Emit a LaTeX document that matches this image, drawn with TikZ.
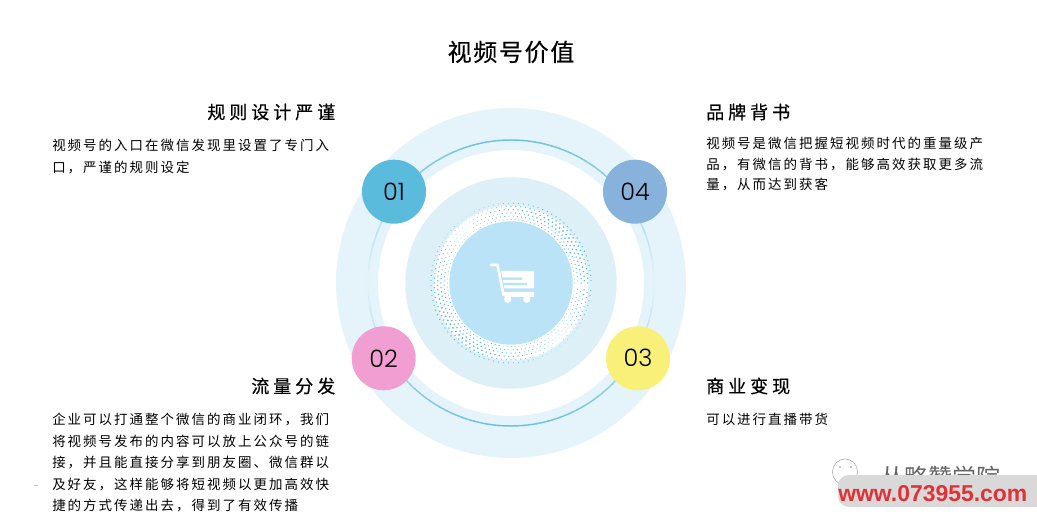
\documentclass[tikz,border=0pt]{standalone}
\usepackage{fontspec}
\usepackage{xcolor}
\setmainfont{Noto Sans CJK SC}
\newfontfamily\titlefont[LetterSpace=7,FakeBold=0.4]{Noto Sans CJK SC}
\newfontfamily\headfont[LetterSpace=22,FakeBold=0.4]{Noto Sans CJK SC}
\newfontfamily\bodyfont[LetterSpace=15]{Noto Sans CJK SC}
\newfontfamily\numfont{Poppins Light}
\newfontfamily\markfont{Liberation Sans}
\definecolor{ringOuter}{HTML}{E5F4FB}
\definecolor{ringMid}{HTML}{DDF0F8}
\definecolor{ringInner}{HTML}{BBE3F7}
\definecolor{dotBlue}{HTML}{5ABBDC}
\definecolor{numOne}{HTML}{5ABBDC}
\definecolor{numTwo}{HTML}{F19FD2}
\definecolor{numThree}{HTML}{F8F078}
\definecolor{numFour}{HTML}{86B2DB}
\definecolor{barGray}{HTML}{D9D9D9}
\definecolor{markRed}{HTML}{E03236}
\tikzset{
  numcircle/.style={circle, minimum size=48pt, inner sep=0pt, font=\numfont\fontsize{18}{20}\selectfont},
  headleft/.style={anchor=east, inner sep=0pt, font=\headfont\fontsize{13.5}{16}\selectfont},
  headright/.style={anchor=west, inner sep=0pt, font=\headfont\fontsize{13.5}{16}\selectfont},
  bodytext/.style={anchor=north west, align=left, inner sep=0pt, font=\bodyfont\fontsize{10.1}{16.1}\selectfont},
}
\begin{document}
\begin{tikzpicture}[x=0.75pt, y=-0.75pt]
                \useasboundingbox (0, 0) rectangle (1037, 523);
                \coordinate (c) at (511, 283);

                % rings
                \fill[ringOuter, even odd rule] (c) circle (131.25pt) (c) circle (99.75pt);
                \foreach \a in {0, 5, ..., 355} {
                    \pgfmathsetmacro{\tone}{15 + 75*abs(sin(\a + 2.5))}
                    \draw[dotBlue!\tone!white, line width=1.1pt] ([shift={(\a:107.25pt)}]c) arc[start angle=\a, end angle=\a + 5.4, radius=107.25pt];
                }
                \fill[ringMid] (c) circle (79.3pt);
                \fill[white] (c) circle (58pt);

                % halftone dots
                \foreach \n in {0, 1, ..., 5} {
                    \foreach \a in {0, 3.6, ..., 356.4} {
                        \pgfmathsetmacro{\dotrad}{0.75*(63.5 + 3.3*\n)}
                        \pgfmathsetmacro{\dotang}{\a + 1.8*mod(\n, 2)}
                        \pgfmathsetmacro{\dotsize}{0.75*(0.3 + 0.7*abs(sin(\a + 45 + 3*\n))*(1 - abs(\n - 3)/5))}
                        \fill[dotBlue] ([shift={(\dotang:\dotrad pt)}]c) circle (\dotsize pt);
                    }
                }
                \node[circle, fill=ringInner, minimum size=92.5pt, inner sep=0pt] (hub) at (c) {};

                % cart
                \fill[white, rounded corners=0.6pt] (501, 271) -- (534, 271) -- (534, 288.5) -- (504.5, 288.5) -- cycle;
                \fill[white] (503.5, 292) -- (534, 292) -- (534, 297) -- (504.5, 297) -- cycle;
                \draw[white, line width=1.9pt, line cap=round, line join=round] (491, 265) -- (497.5, 265) -- (503.5, 295);
                \fill[white] (507.7, 299.3) circle (2.7pt) (526.7, 299.3) circle (2.7pt);
                \fill[ringInner] (501.5, 277.5) rectangle (522, 280) (503, 283) rectangle (527, 285.3);

                % numbered circles
                \node[numcircle, fill=numOne] (n1) at (394, 191.7) {01};
                \node[numcircle, fill=numTwo] (n2) at (383.7, 358.3) {02};
                \node[numcircle, fill=numThree] (n3) at (638, 358.3) {03};
                \node[numcircle, fill=numFour] (n4) at (635, 191.7) {04};

                \node[font=\titlefont\fontsize{18}{20}\selectfont] (title) at (511, 52) {视频号价值};

                \node[headleft] (h1) at (335.5, 112) {规则设计严谨};
                \node[bodytext] (b1) at (52, 139) {视频号的入口在微信发现里设置了专门入\\口，严谨的规则设定};
                \node[headleft] (h2) at (335.5, 386) {流量分发};
                \node[bodytext] (b2) at (52, 413) {企业可以打通整个微信的商业闭环，我们\\将视频号发布的内容可以放上公众号的链\\接，并且能直接分享到朋友圈、微信群以\\及好友，这样能够将短视频以更加高效快\\捷的方式传递出去，得到了有效传播};
                \node[headright] (h3) at (706, 386) {商业变现};
                \node[bodytext] (b3) at (706, 413) {可以进行直播带货};
                \node[headright] (h4) at (706, 112) {品牌背书};
                \node[bodytext, font=\bodyfont\fontsize{10.1}{15.5}\selectfont] (b4) at (706, 137) {视频号是微信把握短视频时代的重量级产\\品，有微信的背书，能够高效获取更多流\\量，从而达到获客};

                % watermark
                \draw[gray!60, line width=0.5pt] (845, 472) ellipse [x radius=9.4pt, y radius=9.8pt];
                \fill[gray!60] (840, 467) circle (0.9pt) (851, 467) circle (0.9pt);
                \node[font=\fontsize{18}{20}\selectfont, text=gray!80!black, anchor=west, inner sep=0pt] (wmtext) at (880, 477) {丛略赞学院};
                \fill[barGray, rounded corners=8pt] (838, 475) rectangle (1050, 507);
                \node[font=\markfont\bfseries\fontsize{17.2}{20}\selectfont, text=markRed, anchor=west, inner sep=0pt] (wmurl) at (838, 494) {www.073955.com};
                \fill[gray!50] (34, 484.5) rectangle (38, 485.5);
            \end{tikzpicture}
\end{document}
